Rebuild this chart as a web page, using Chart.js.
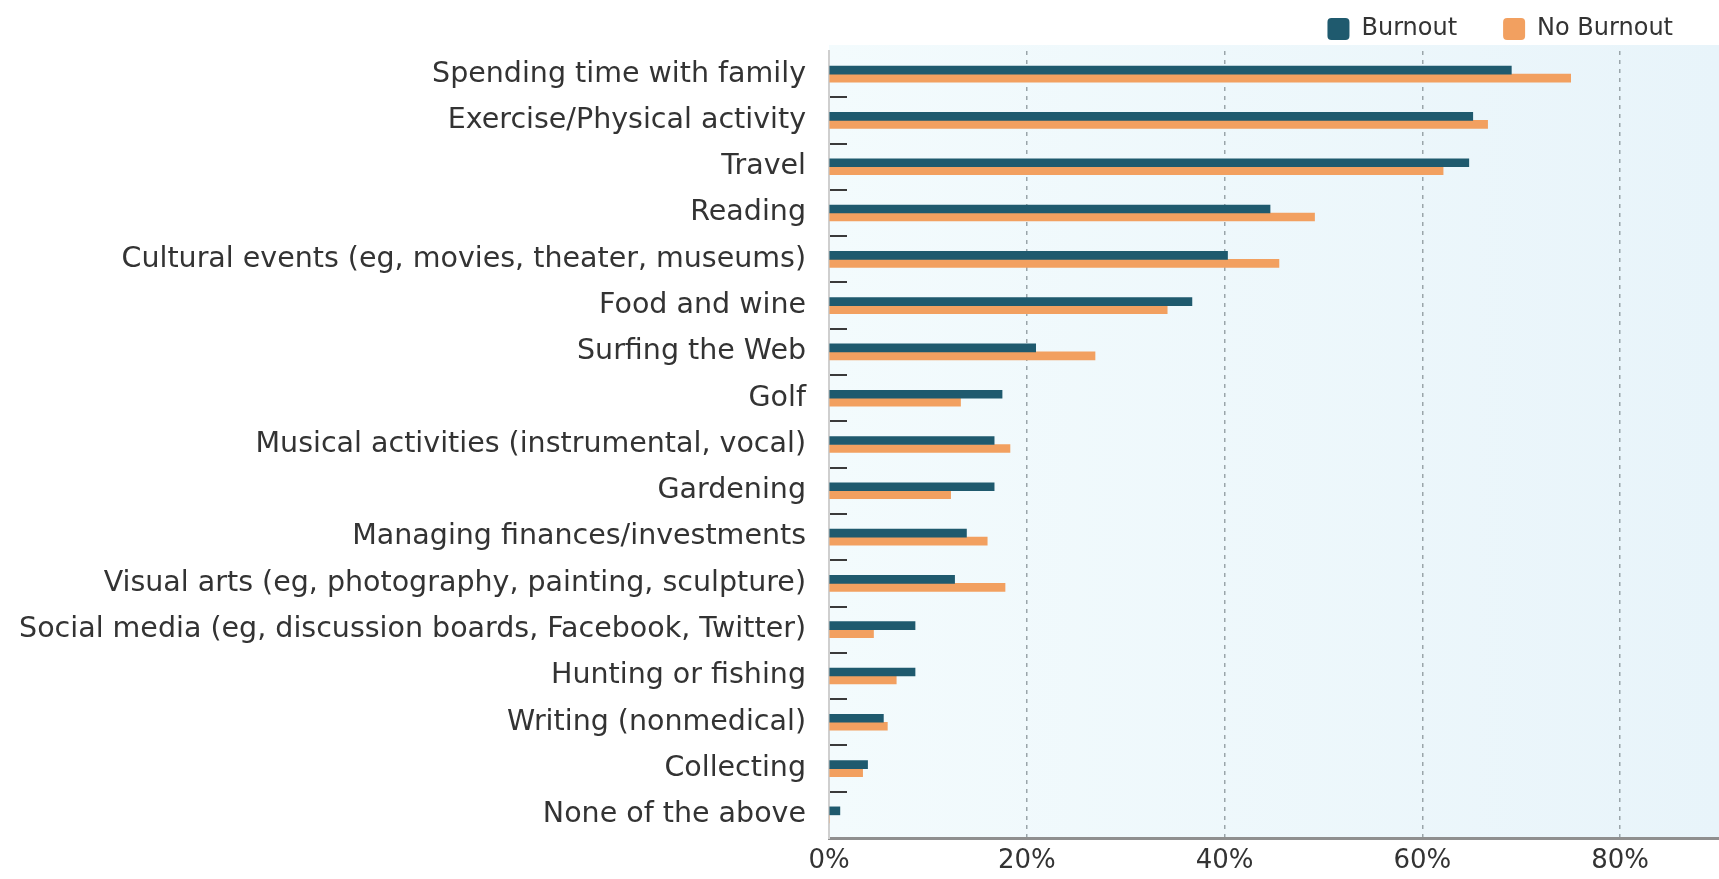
<!DOCTYPE html>
<html>
<head>
<meta charset="utf-8">
<script src="https://cdn.jsdelivr.net/npm/chart.js@4"></script>
<style>
  html, body { margin: 0; padding: 0; background: #ffffff; }
  #wrap { width: 1719px; height: 879px; position: relative; }
</style>
</head>
<body>
<div id="wrap"><canvas id="c"></canvas></div>
<script>
const categories = [
  "Spending time with family",
  "Exercise/Physical activity",
  "Travel",
  "Reading",
  "Cultural events (eg, movies, theater, museums)",
  "Food and wine",
  "Surfing the Web",
  "Golf",
  "Musical activities (instrumental, vocal)",
  "Gardening",
  "Managing finances/investments",
  "Visual arts (eg, photography, painting, sculpture)",
  "Social media (eg, discussion boards, Facebook, Twitter)",
  "Hunting or fishing",
  "Writing (nonmedical)",
  "Collecting",
  "None of the above"
];
const seriesNames = ["Burnout", "No Burnout"];
const burnout   = [69.0, 65.1, 64.7, 44.6, 40.3, 36.7, 20.9, 17.5, 16.7, 16.7, 13.9, 12.7, 8.7, 8.7, 5.5, 3.9, 1.1];
const noBurnout = [75.0, 66.6, 62.1, 49.1, 45.5, 34.2, 26.9, 13.3, 18.3, 12.3, 16.0, 17.8, 4.5, 6.8, 5.9, 3.4, 0.0];
const xTickValues = [0, 20, 40, 60, 80];
const xMax = 90;

const bgPlugin = {
  id: 'plotBg',
  beforeDraw(chart) {
    const { ctx, chartArea: a } = chart;
    const g = ctx.createLinearGradient(a.left, 0, a.right, 0);
    g.addColorStop(0, '#f3fbfd');
    g.addColorStop(1, '#e8f4fa');
    ctx.save();
    ctx.fillStyle = g;
    ctx.fillRect(a.left, a.top - 6, a.right - a.left, a.bottom - a.top + 6);
    ctx.restore();
  }
};

new Chart(document.getElementById('c'), {
  type: 'bar',
  data: {
    labels: categories,
    datasets: [
      { label: seriesNames[0], data: burnout, backgroundColor: '#1f5a6e', borderWidth: 0, barThickness: 8 },
      { label: seriesNames[1], data: noBurnout, backgroundColor: '#f2a060', borderWidth: 0, barThickness: 8 }
    ]
  },
  options: {
    indexAxis: 'y',
    responsive: true,
    maintainAspectRatio: false,
    animation: false,
    layout: { padding: { top: -29, left: 0, right: 0, bottom: 0 } },
    plugins: {
      legend: {
        position: 'top',
        align: 'end',
        labels: {
          boxWidth: 22,
          boxHeight: 22,
          padding: 46,
          color: '#333333',
          useBorderRadius: true,
          borderRadius: 4,
          font: { family: 'DejaVu Sans', size: 24 }
        }
      },
      tooltip: { enabled: false }
    },
    scales: {
      x: {
        min: 0,
        max: xMax,
        afterBuildTicks: (axis) => { axis.ticks = axis.ticks.filter(t => xTickValues.includes(t.value)); },
        afterFit: (axis) => { axis.height = 41; },
        ticks: {
          stepSize: 20,
          callback: (v) => v + '%',
          color: '#333333',
          padding: 8,
          maxRotation: 0,
          font: { family: 'DejaVu Sans', size: 26 }
        },
        grid: {
          drawTicks: false,
          lineWidth: 1.5,
          color: (c) => (c.tick && c.tick.value === 0) ? 'rgba(0,0,0,0)' : '#9aa5aa'
        },
        border: { color: '#8f8f8f', width: 3, dash: [4, 5] }
      },
      y: {
        afterFit: (axis) => { axis.width = 829; axis.paddingTop = 0; axis.paddingBottom = 0; },
        ticks: {
          color: '#333333',
          padding: 41,
          font: { family: 'DejaVu Sans', size: 28.5 }
        },
        grid: {
          drawOnChartArea: false,
          drawTicks: true,
          tickLength: -18,
          offset: true,
          lineWidth: 2,
          color: (c) => c.index === 0 ? 'rgba(0,0,0,0)' : '#3a3a3a'
        },
        border: { color: '#cfcfcf', width: 2 }
      }
    }
  },
  plugins: [bgPlugin]
});
</script>
</body>
</html>
